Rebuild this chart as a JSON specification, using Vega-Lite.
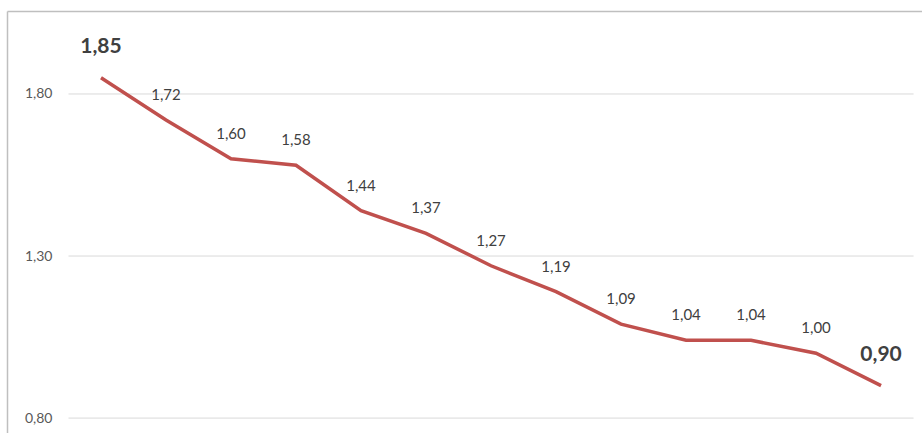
{
  "$schema": "https://vega.github.io/schema/vega-lite/v6.json",
  "width": 915,
  "height": 422,
  "autosize": "none",
  "padding": {"left": 7, "top": 11, "right": 0, "bottom": 0},
  "background": "white",
  "config": {
    "view": {"stroke": null},
    "font": "Lato",
    "locale": {"number": {"decimal": ",", "thousands": ".", "grouping": [3], "currency": ["", " €"]}}
  },
  "data": {
    "values": [
      {"i": 0, "v": 1.85},
      {"i": 1, "v": 1.72},
      {"i": 2, "v": 1.60},
      {"i": 3, "v": 1.58},
      {"i": 4, "v": 1.44},
      {"i": 5, "v": 1.37},
      {"i": 6, "v": 1.27},
      {"i": 7, "v": 1.19},
      {"i": 8, "v": 1.09},
      {"i": 9, "v": 1.04},
      {"i": 10, "v": 1.04},
      {"i": 11, "v": 1.00},
      {"i": 12, "v": 0.90}
    ]
  },
  "layer": [
    {
      "data": {"values": [{"g": 0.8}, {"g": 1.3}, {"g": 1.8}]},
      "mark": {"type": "rule", "color": "#D9D9D9", "strokeWidth": 1},
      "encoding": {
        "y": {"field": "g", "type": "quantitative"},
        "x": {"datum": -0.5, "type": "quantitative"},
        "x2": {"datum": 12.5}
      }
    },
    {
      "mark": {"type": "line", "color": "#C0504D", "strokeWidth": 3.5},
      "encoding": {
        "x": {"field": "i", "type": "quantitative", "scale": {"domain": [-1.446, 12.63], "nice": false, "zero": false},
          "axis": {"orient": "top", "domain": true, "domainColor": "#BFBFBF", "domainWidth": 1.5, "ticks": false, "labels": false, "grid": false, "title": null}},
        "y": {"field": "v", "type": "quantitative", "scale": {"domain": [0.754, 2.056], "nice": false, "zero": false},
          "axis": {"orient": "left", "domain": true, "domainColor": "#BFBFBF", "domainWidth": 1.5, "ticks": false, "tickSize": 0, "grid": false, "title": null,
            "values": [0.8, 1.3, 1.8], "format": ".2f", "labelPadding": -45, "labelAlign": "right", "labelBaseline": "middle",
            "labelFontSize": 14, "labelColor": "#595959", "labelFont": "Lato"}}
      }
    },
    {
      "transform": [{"filter": "datum.i > 0 && datum.i < 12"}],
      "mark": {"type": "text", "fontSize": 15, "color": "#404040", "dy": -25, "baseline": "middle", "align": "center"},
      "encoding": {
        "x": {"field": "i", "type": "quantitative"},
        "y": {"field": "v", "type": "quantitative"},
        "text": {"field": "v", "type": "quantitative", "format": ".2f"}
      }
    },
    {
      "transform": [{"filter": "datum.i == 0 || datum.i == 12"}],
      "mark": {"type": "text", "fontSize": 21, "fontWeight": "bold", "color": "#404040", "dy": -31, "baseline": "middle", "align": "center"},
      "encoding": {
        "x": {"field": "i", "type": "quantitative"},
        "y": {"field": "v", "type": "quantitative"},
        "text": {"field": "v", "type": "quantitative", "format": ".2f"}
      }
    }
  ]
}
